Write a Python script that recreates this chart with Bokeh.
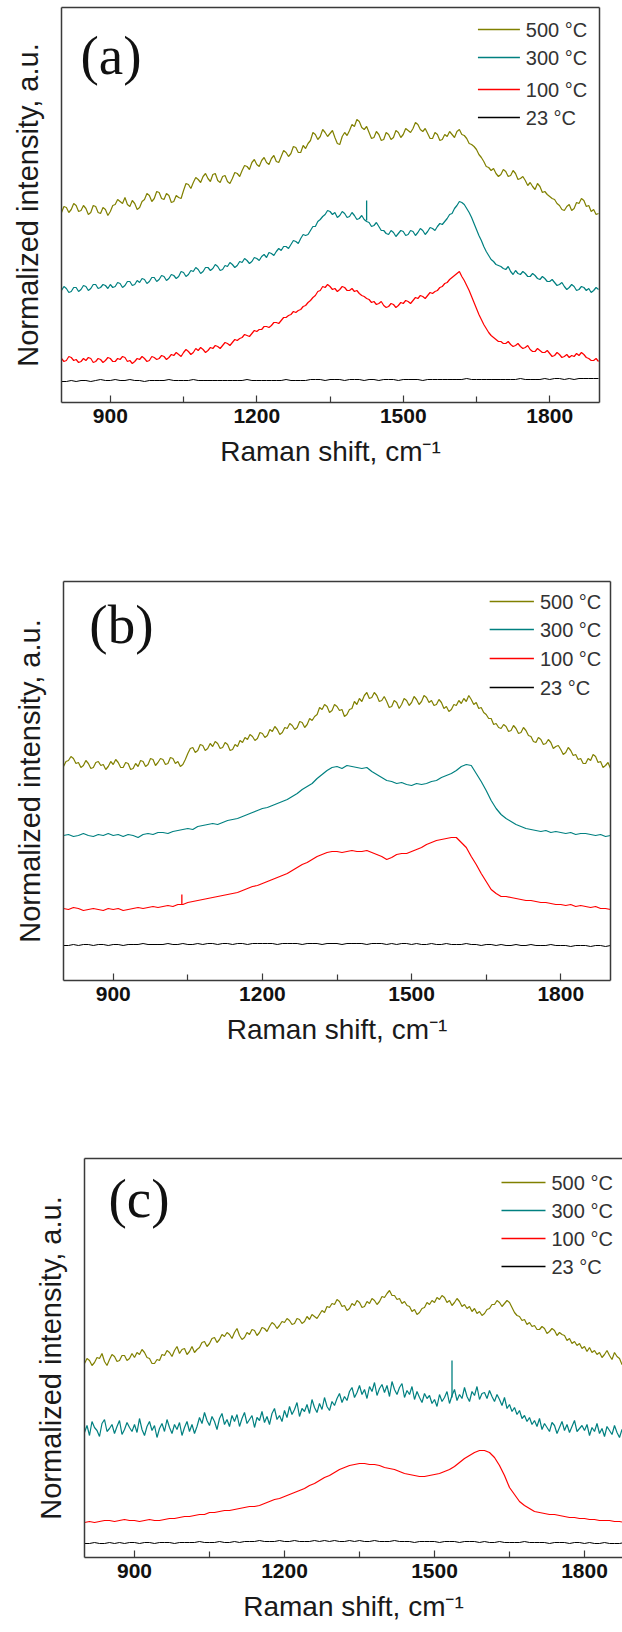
from bokeh.plotting import figure
from bokeh.models import FixedTicker, LinearAxis, Range1d, ColumnDataSource
from bokeh.embed import file_html
from bokeh.resources import INLINE
from bokeh.core.properties import value

# ---------------- data ----------------
# noisy traces are read every 5 cm-1, smoother ones every 10 cm-1
STEP_FINE = 5
STEP_COARSE = 10
SHIFT_START = 800
labels = ["500 °C", "300 °C", "100 °C", "23 °C"]
colors = ["#808000", "#008080", "#ff0000", "#000000"]
x_ticks = [900, 1200, 1500, 1800]
x_minor_ticks = [1050, 1350, 1650]
x_title = "Raman shift, cm\u207b\u00b9"
y_title = "Normalized intensity, a.u."
panel_tags = ["(a)", "(b)", "(c)"]

# ---- panel (a) ----
a_500 = [190, 196, 195, 190, 193, 199, 197, 191, 192, 197, 194, 188, 190, 197, 196, 190, 189, 195, 193, 187,
         191, 197, 198, 203, 201, 199, 205, 198, 196, 202, 199, 193, 195, 201, 203, 209, 207, 201, 204, 211,
         210, 204, 203, 209, 207, 200, 201, 207, 205, 204, 212, 219, 218, 214, 220, 225, 223, 220, 226, 229,
         224, 221, 228, 229, 222, 220, 226, 227, 221, 219, 224, 230, 229, 226, 232, 237, 236, 233, 240, 243,
         238, 236, 242, 245, 240, 238, 244, 247, 241, 240, 246, 252, 250, 246, 249, 256, 255, 250, 250, 257,
         254, 259, 262, 270, 268, 263, 266, 273, 270, 266, 269, 272, 265, 259, 258, 266, 270, 267, 272, 278,
         276, 283, 281, 275, 273, 276, 270, 264, 265, 271, 268, 262, 263, 270, 268, 263, 265, 272, 270, 265,
         268, 274, 272, 270, 274, 280, 278, 273, 271, 274, 269, 264, 264, 270, 268, 262, 263, 268, 266, 271,
         268, 265, 271, 273, 268, 267, 264, 259, 258, 256, 253, 248, 245, 241, 236, 235, 232, 234, 229, 226,
         228, 233, 231, 226, 227, 232, 229, 223, 224, 226, 222, 217, 220, 216, 213, 219, 216, 210, 211, 208,
         206, 204, 203, 199, 197, 193, 192, 196, 198, 192, 194, 200, 199, 204, 202, 196, 197, 191, 193, 188,
         189]
a_300 = [112, 116, 114, 110, 111, 115, 115, 111, 113, 117, 116, 112, 114, 118, 118, 114, 115, 118, 117, 114,
         118, 115, 116, 120, 119, 115, 117, 121, 121, 117, 118, 122, 120, 124, 123, 119, 121, 125, 125, 121,
         123, 127, 126, 122, 124, 128, 127, 124, 126, 131, 130, 126, 128, 132, 131, 135, 133, 129, 131, 135,
         135, 132, 134, 138, 136, 132, 133, 137, 136, 140, 138, 135, 137, 141, 140, 144, 142, 139, 141, 145,
         144, 142, 146, 148, 145, 150, 149, 147, 151, 154, 152, 156, 156, 154, 158, 162, 161, 159, 164, 168,
         167, 168, 172, 176, 176, 181, 183, 186, 188, 192, 191, 188, 190, 185, 187, 191, 189, 185, 186, 190,
         187, 183, 184, 187, 183, 181, 180, 176, 177, 180, 176, 172, 172, 169, 168, 172, 170, 166, 169, 172,
         171, 167, 168, 172, 171, 167, 170, 174, 172, 168, 171, 175, 174, 172, 176, 179, 178, 181, 184, 188,
         189, 194, 197, 201, 200, 198, 194, 190, 185, 179, 173, 167, 162, 156, 151, 147, 143, 141, 138, 137,
         136, 134, 133, 136, 131, 128, 132, 129, 128, 131, 129, 126, 126, 129, 127, 124, 123, 126, 124, 121,
         121, 123, 120, 117, 118, 120, 116, 113, 115, 118, 116, 112, 113, 116, 115, 112, 114, 110, 112, 115,
         113]
a_100 = [44, 41, 42, 46, 45, 42, 43, 40, 41, 44, 42, 45, 44, 40, 41, 44, 43, 40, 42, 45,
         44, 41, 41, 44, 43, 46, 45, 41, 42, 39, 41, 44, 43, 46, 44, 41, 42, 46, 45, 43,
         44, 47, 46, 43, 45, 48, 47, 50, 48, 46, 50, 53, 51, 48, 50, 54, 52, 55, 53, 50,
         52, 55, 54, 57, 56, 54, 57, 60, 59, 57, 60, 63, 62, 64, 65, 68, 67, 66, 69, 72,
         71, 73, 73, 76, 76, 75, 77, 80, 80, 79, 82, 85, 85, 87, 88, 91, 90, 92, 93, 96,
         97, 100, 102, 105, 107, 111, 112, 116, 115, 118, 116, 113, 114, 111, 113, 116, 115, 112, 112, 114,
         111, 112, 109, 107, 106, 104, 103, 100, 101, 98, 99, 101, 97, 95, 96, 99, 98, 95, 97, 100,
         99, 102, 101, 99, 102, 105, 104, 107, 106, 104, 107, 110, 109, 111, 112, 115, 116, 119, 120, 123,
         125, 127, 129, 131, 126, 122, 117, 112, 106, 100, 94, 88, 83, 78, 74, 70, 67, 65, 63, 61,
         61, 59, 59, 61, 58, 56, 57, 59, 56, 54, 55, 57, 53, 51, 51, 54, 52, 50, 50, 52,
         49, 46, 47, 50, 48, 45, 46, 48, 45, 47, 46, 49, 47, 50, 48, 45, 44, 42, 42, 44,
         41]
a_23 = [21, 21, 22, 21, 22, 22, 21, 22, 23, 22,
        22, 23, 22, 22, 23, 22, 22, 21, 22, 22,
        22, 22, 23, 22, 22, 22, 22, 23, 22, 22,
        22, 22, 22, 22, 22, 22, 22, 22, 23, 22,
        22, 22, 22, 22, 22, 22, 23, 22, 22, 22,
        22, 23, 23, 23, 22, 23, 23, 23, 22, 23,
        23, 23, 22, 23, 23, 22, 23, 23, 23, 22,
        23, 23, 23, 23, 22, 23, 23, 23, 23, 23,
        23, 23, 23, 24, 23, 23, 23, 23, 23, 23,
        23, 23, 23, 23, 24, 23, 23, 23, 23, 24,
        23, 24, 24, 23, 24, 23, 24, 24, 24, 24,
        24]

# ---- panel (b) ----
b_500 = [214, 219, 220, 224, 222, 217, 218, 213, 215, 220, 217, 212, 213, 218, 219, 215, 216, 211, 214, 219,
         216, 221, 218, 213, 213, 218, 217, 211, 212, 217, 214, 220, 219, 214, 216, 222, 221, 215, 218, 222,
         221, 216, 217, 223, 222, 217, 219, 214, 216, 221, 227, 232, 233, 228, 230, 236, 235, 230, 232, 237,
         234, 239, 237, 232, 233, 238, 236, 230, 231, 236, 234, 240, 238, 243, 241, 246, 244, 240, 242, 248,
         247, 243, 245, 251, 249, 254, 251, 246, 248, 253, 252, 257, 255, 251, 253, 259, 258, 253, 256, 262,
         260, 264, 266, 273, 271, 276, 274, 268, 270, 276, 274, 270, 271, 264, 266, 271, 272, 279, 276, 282,
         279, 285, 288, 282, 283, 288, 285, 279, 280, 284, 279, 273, 274, 280, 278, 272, 276, 282, 280, 275,
         278, 284, 281, 276, 279, 285, 283, 278, 280, 275, 276, 281, 278, 272, 274, 269, 271, 276, 275, 280,
         277, 282, 279, 285, 281, 276, 278, 272, 273, 268, 266, 262, 262, 256, 257, 253, 252, 256, 254, 249,
         250, 255, 252, 247, 248, 253, 250, 245, 244, 239, 238, 243, 241, 236, 237, 241, 238, 232, 234, 235,
         231, 226, 228, 233, 230, 225, 226, 221, 222, 217, 217, 222, 220, 226, 224, 218, 219, 213, 215, 218,
         212]
b_300 = [145, 146, 144, 145, 147, 145, 144, 146, 145, 147,
         145, 146, 144, 146, 145, 143, 146, 147, 146, 148,
         148, 147, 149, 150, 151, 152, 151, 154, 155, 156,
         157, 156, 158, 160, 161, 162, 164, 166, 168, 170,
         172, 173, 175, 177, 179, 181, 184, 187, 191, 194,
         197, 202, 206, 210, 213, 214, 212, 215, 214, 213,
         212, 213, 209, 206, 203, 200, 199, 197, 198, 196,
         195, 197, 196, 197, 199, 200, 203, 205, 207, 210,
         214, 216, 215, 207, 199, 190, 180, 172, 166, 162,
         159, 156, 154, 152, 151, 150, 149, 150, 148, 149,
         148, 147, 148, 146, 147, 147, 146, 145, 146, 144,
         145]
b_100 = [72, 71, 73, 72, 70, 71, 72, 71, 70, 72,
         71, 72, 70, 71, 72, 73, 72, 73, 74, 73,
         74, 75, 74, 76, 76, 78, 79, 80, 81, 82,
         83, 84, 85, 86, 87, 88, 90, 92, 94, 95,
         97, 99, 101, 103, 105, 107, 110, 113, 116, 118,
         121, 124, 126, 128, 129, 129, 128, 129, 130, 129,
         129, 130, 128, 126, 124, 121, 123, 126, 127, 127,
         129, 131, 133, 136, 138, 140, 141, 142, 143, 143,
         138, 133, 124, 116, 107, 99, 91, 87, 84, 84,
         83, 82, 81, 80, 80, 79, 78, 78, 77, 76,
         76, 75, 76, 74, 75, 74, 73, 74, 72, 72,
         71]
b_23 = [35, 35, 36, 35, 36, 36, 35, 36, 36, 35,
        36, 36, 35, 36, 36, 36, 37, 36, 36, 36,
        36, 37, 36, 36, 37, 36, 36, 37, 36, 37,
        37, 36, 37, 37, 36, 37, 37, 36, 37, 37,
        37, 37, 37, 36, 37, 37, 37, 37, 36, 37,
        37, 37, 36, 37, 37, 37, 36, 37, 37, 37,
        37, 36, 37, 37, 37, 36, 37, 36, 37, 37,
        36, 37, 36, 36, 37, 36, 36, 37, 36, 36,
        36, 37, 36, 36, 35, 36, 36, 35, 36, 35,
        35, 36, 35, 35, 36, 35, 35, 35, 36, 35,
        35, 35, 34, 35, 35, 35, 34, 35, 35, 34,
        35]

# ---- panel (c) ----
c_500 = [194, 199, 197, 192, 195, 200, 199, 204, 196, 192, 198, 203, 201, 196, 197, 202, 202, 197, 199, 204,
         200, 205, 203, 208, 205, 200, 199, 194, 194, 198, 197, 203, 202, 207, 205, 201, 207, 211, 204, 208,
         209, 203, 206, 211, 205, 208, 210, 215, 216, 211, 214, 219, 220, 215, 218, 223, 221, 225, 223, 219,
         225, 229, 222, 218, 220, 225, 223, 228, 227, 222, 225, 230, 229, 226, 231, 235, 233, 229, 232, 236,
         235, 239, 237, 233, 234, 239, 238, 234, 236, 241, 238, 243, 241, 239, 243, 247, 245, 251, 250, 254,
         253, 258, 256, 251, 252, 247, 249, 254, 252, 257, 255, 250, 251, 256, 254, 259, 257, 253, 256, 261,
         260, 264, 267, 262, 262, 258, 259, 254, 256, 252, 251, 246, 248, 243, 245, 249, 250, 255, 253, 257,
         255, 260, 258, 262, 260, 255, 257, 252, 255, 259, 256, 251, 253, 249, 251, 246, 249, 244, 246, 242,
         244, 248, 249, 253, 253, 257, 255, 251, 254, 257, 255, 250, 245, 242, 241, 237, 238, 233, 235, 231,
         232, 228, 228, 231, 229, 224, 226, 229, 227, 222, 225, 223, 222, 217, 219, 214, 216, 212, 214, 209,
         211, 206, 210, 205, 207, 203, 205, 200, 203, 207, 202, 198, 205, 201, 199, 193, 194, 199, 197, 192,
         193]
c_300 = [125, 132, 122, 136, 130, 127, 121, 134, 138, 126, 129, 133, 124, 131, 137, 123, 128, 135, 130, 126,
         133, 125, 139, 128, 122, 131, 136, 127, 132, 120, 129, 134, 126, 138, 130, 124, 133, 128, 135, 122,
         130, 136, 126, 133, 124, 131, 140, 134, 145, 137, 132, 141, 136, 128, 139, 144, 133, 138, 131, 142,
         136, 143, 131, 139, 145, 134, 138, 142, 130, 140, 137, 146, 135, 141, 133, 144, 149, 138, 142, 136,
         147, 140, 151, 143, 148, 155, 141, 149, 146, 153, 144, 158, 150, 145, 154, 148, 160, 151, 147, 156,
         152, 159, 164, 155, 161, 157, 166, 170, 160, 165, 172, 163, 168, 159, 171, 166, 175, 162, 169, 173,
         165, 172, 161, 176, 168, 163, 170, 174, 160, 167, 163, 171, 158, 166, 160, 155, 164, 159, 162, 154,
         158, 151, 163, 156, 160, 166, 154, 162, 168, 157, 163, 159, 170, 161, 156, 166, 162, 171, 158, 164,
         165, 159, 167, 161, 156, 163, 158, 152, 160, 149, 153, 146, 150, 143, 147, 139, 142, 136, 140, 133,
         137, 131, 139, 128, 134, 130, 126, 135, 132, 124, 130, 136, 127, 133, 125, 131, 137, 126, 129, 132,
         127, 133, 122, 130, 126, 134, 124, 129, 121, 131, 127, 123, 132, 125, 120, 128, 124, 130, 119, 126,
         122]
c_100 = [35, 36, 35, 36, 37, 37, 36, 37, 38, 37,
         37, 36, 37, 38, 37, 37, 38, 39, 39, 40,
         41, 41, 42, 43, 43, 45, 45, 46, 47, 47,
         48, 49, 50, 51, 51, 52, 54, 56, 58, 59,
         61, 63, 65, 67, 69, 72, 74, 77, 80, 82,
         85, 88, 90, 92, 93, 94, 94, 93, 93, 92,
         90, 89, 88, 86, 84, 83, 82, 81, 81, 82,
         83, 84, 86, 88, 91, 95, 99, 102, 105, 107,
         107, 105, 100, 92, 82, 70, 63, 56, 52, 49,
         46, 45, 44, 43, 43, 42, 41, 40, 40, 39,
         39, 38, 38, 37, 37, 37, 36, 36, 35, 35,
         35]
c_23 = [14, 14, 15, 14, 14, 15, 14, 15, 14, 15,
        15, 14, 15, 15, 14, 15, 15, 15, 14, 15,
        15, 15, 15, 16, 15, 15, 15, 16, 15, 15,
        16, 15, 16, 16, 16, 17, 16, 16, 16, 17,
        16, 16, 17, 16, 16, 16, 17, 16, 17, 16,
        17, 16, 16, 17, 16, 17, 16, 16, 17, 16,
        16, 16, 17, 16, 16, 16, 15, 16, 16, 16,
        16, 15, 16, 16, 16, 15, 16, 16, 16, 15,
        16, 15, 15, 16, 15, 15, 15, 15, 16, 15,
        15, 15, 15, 14, 15, 15, 15, 14, 15, 15,
        14, 15, 14, 14, 15, 14, 14, 14, 15, 14,
        14]

# narrow single-point spikes: (shift, base, top, series index)
a_spikes = ([1425], [182], [202], [1])
b_spikes = ([1038], [76], [86], [2])
c_spikes = ([1535], [160], [197], [1])

# ---------------- layout / style ----------------
FRAME = "#3a3a3a"
SANS = "Liberation Sans"
SERIF = "Liberation Serif"

panels = [
    dict(series=[(a_500, STEP_FINE), (a_300, STEP_FINE), (a_100, STEP_FINE), (a_23, STEP_COARSE)],
         spikes=a_spikes, tag=panel_tags[0],
         height=540, borders=(7, 138, 61, 23), x_end=1902, y_end=395,
         tag_xy=(839, 347), leg_x=(1653, 1739), leg_tx=1751,
         leg_y=[373, 345, 313, 285], right=True),
    dict(series=[(b_500, STEP_FINE), (b_300, STEP_COARSE), (b_100, STEP_COARSE), (b_23, STEP_COARSE)],
         spikes=b_spikes, tag=panel_tags[1],
         height=560, borders=(41, 120, 63, 12), x_end=1900, y_end=399,
         tag_xy=(852, 356), leg_x=(1657, 1746), leg_tx=1758,
         leg_y=[379, 351, 322, 293], right=True),
    dict(series=[(c_500, STEP_FINE), (c_300, STEP_FINE), (c_100, STEP_COARSE), (c_23, STEP_COARSE)],
         spikes=c_spikes, tag=panel_tags[2],
         height=532, borders=(58, 75, 84, 0), x_end=1876, y_end=399,
         tag_xy=(848, 359), leg_x=(1634, 1722), leg_tx=1734,
         leg_y=[375, 347, 319, 291], right=False),
]


def empty_axis():
    ax = LinearAxis(ticker=FixedTicker(ticks=[]))
    ax.axis_line_color = FRAME
    ax.axis_line_width = 1.5
    ax.major_tick_line_color = None
    ax.minor_tick_line_color = None
    ax.major_tick_out = 0
    ax.major_tick_in = 0
    ax.major_label_standoff = 0
    ax.major_label_text_font_size = "0px"
    return ax


def make_panel(cfg):
    top, bottom, left, right = cfg["borders"]
    p = figure(width=622, height=cfg["height"], output_backend="svg",
               toolbar_location=None, x_range=Range1d(800, cfg["x_end"]),
               y_range=Range1d(0, cfg["y_end"]),
               min_border_top=top, min_border_bottom=bottom,
               min_border_left=left, min_border_right=right)
    p.outline_line_color = None
    p.xgrid.visible = False
    p.ygrid.visible = False
    p.background_fill_color = "white"
    p.border_fill_color = "white"

    # x axis
    xa = p.xaxis[0]
    xa.ticker = FixedTicker(ticks=x_ticks, minor_ticks=x_minor_ticks)
    xa.axis_line_color = FRAME
    xa.axis_line_width = 1.5
    xa.major_tick_in = 7
    xa.major_tick_out = 0
    xa.minor_tick_in = 6
    xa.minor_tick_out = 0
    xa.major_tick_line_color = FRAME
    xa.minor_tick_line_color = FRAME
    xa.major_tick_line_width = 1.2
    xa.minor_tick_line_width = 1.2
    xa.major_label_standoff = 6
    xa.major_label_text_font = SANS
    xa.major_label_text_font_style = "bold"
    xa.major_label_text_font_size = "21px"
    xa.major_label_text_color = "#111111"
    xa.axis_label = x_title
    xa.axis_label_text_font = SANS
    xa.axis_label_text_font_style = "normal"
    xa.axis_label_text_font_size = "28px"
    xa.axis_label_text_color = "#1a1a1a"
    xa.axis_label_standoff = 10

    # y axis: no ticks, only title
    ya = p.yaxis[0]
    ya.ticker = FixedTicker(ticks=[])
    ya.axis_line_color = FRAME
    ya.axis_line_width = 1.5
    ya.major_tick_line_color = None
    ya.minor_tick_line_color = None
    ya.major_tick_out = 0
    ya.major_tick_in = 0
    ya.major_label_standoff = 0
    ya.major_label_text_font_size = "0px"
    ya.axis_label = y_title
    ya.axis_label_text_font = SANS
    ya.axis_label_text_font_style = "normal"
    ya.axis_label_text_font_size = "29px"
    ya.axis_label_text_color = "#1a1a1a"
    ya.axis_label_standoff = 18

    p.add_layout(empty_axis(), "above")
    if cfg["right"]:
        p.add_layout(empty_axis(), "right")

    # spectra
    widths = [1.2, 1.2, 1.2, 1.0]
    for (ys, step), col, w in zip(cfg["series"], colors, widths):
        xs = [SHIFT_START + step * i for i in range(len(ys))]
        p.line(xs, ys, line_color=col, line_width=w)

    sx, sb, st, si = cfg["spikes"]
    p.segment(x0=sx, y0=sb, x1=sx, y1=st,
              line_color=[colors[i] for i in si], line_width=1.3)

    # legend (manual)
    x0, x1 = cfg["leg_x"]
    leg = ColumnDataSource(dict(x0=[x0] * 4, x1=[x1] * 4, y=cfg["leg_y"],
                                tx=[cfg["leg_tx"]] * 4, label=labels, color=colors))
    p.segment(x0="x0", y0="y", x1="x1", y1="y", line_color="color",
              line_width=1.5, source=leg)
    p.text(x="tx", y="y", text="label", source=leg, text_font=value(SANS),
           text_font_size="20px", text_color="#333333",
           text_baseline="middle", text_align="left")

    # panel tag
    tx, ty = cfg["tag_xy"]
    p.text(x=[tx], y=[ty], text=[cfg["tag"]], text_font=value(SERIF),
           text_font_size="55px", text_color="#111111",
           text_baseline="alphabetic", text_align="left")
    return p


figs = [make_panel(c) for c in panels]

# separate roots so the three frames keep their own left/right offsets
open("out.html", "w").write(file_html(figs, INLINE))
